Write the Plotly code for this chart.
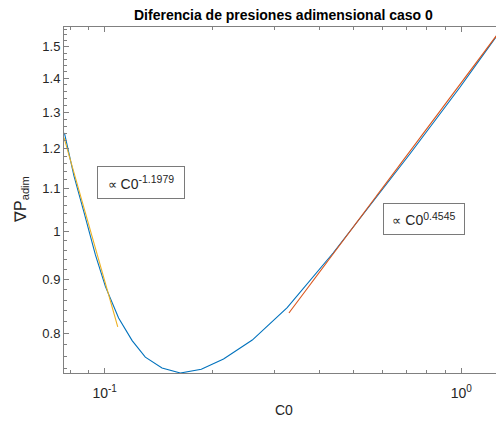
import numpy as np
import plotly.graph_objects as go

# Dimensionless pressure difference vs C0 (case 0)
c0 = [0.0771, 0.0820, 0.0877, 0.0942, 0.1005, 0.1094, 0.1194, 0.1300, 0.1448,
      0.1630, 0.1866, 0.2154, 0.2593, 0.3249, 0.4370, 0.7190, 0.9900, 1.3100]
dp_adim = [1.242, 1.130, 1.040, 0.950, 0.886, 0.827, 0.787, 0.759, 0.741,
           0.733, 0.739, 0.756, 0.788, 0.846, 0.954, 1.187, 1.372, 1.567]

# Power-law fits: y = coef * C0^exp
low_exp, low_coef, low_span = -1.1979, 0.0569, [0.0769, 0.1088]
high_exp, high_coef, high_span = 0.4545, 1.387, [0.3285, 1.31]

x_ticks = [0.1, 1.0]
x_ticktext = ["10<sup><span style='font-size:10px'>-1</span></sup>",
              "10<sup><span style='font-size:10px'>0</span></sup>"]
x_minor = [0.08, 0.09, 0.2, 0.3, 0.4, 0.5, 0.6, 0.7, 0.8, 0.9]
y_ticks = [0.8, 0.9, 1.0, 1.1, 1.2, 1.3, 1.4, 1.5]
y_ticktext = ["0.8", "0.9", "1", "1.1", "1.2", "1.3", "1.4", "1.5"]
y_minor = [round(v, 2) for v in np.arange(0.74, 1.57, 0.02)]

low_x = np.array(low_span)
high_x = np.array(high_span)

W, H = 496, 421
L, R, T, B = 64, 0, 27, 48
pw, ph = W - L - R, H - T - B


def px(xp):
    return (xp - L) / pw


def py(yp):
    return (H - B - yp) / ph


axis_col = "#808080"
text_col = "#262626"
font = "Liberation Sans, Arial, sans-serif"

fig = go.Figure()
fig.add_trace(go.Scatter(x=c0, y=dp_adim, mode="lines",
                         line=dict(color="#0072BD", width=1.1), showlegend=False))
fig.add_trace(go.Scatter(x=high_x, y=high_coef * high_x ** high_exp, mode="lines",
                         line=dict(color="#D95319", width=1.1), showlegend=False))
fig.add_trace(go.Scatter(x=low_x, y=low_coef * low_x ** low_exp, mode="lines",
                         line=dict(color="#EDB120", width=1.1), showlegend=False))

fig.update_layout(
    width=W, height=H,
    margin=dict(l=L, r=R, t=T, b=B, pad=0),
    paper_bgcolor="white", plot_bgcolor="white",
    font=dict(family=font, size=13, color=text_col),
    showlegend=False,
)

fig.update_xaxes(
    type="log", range=[np.log10(0.0769), 0.0972],
    tickmode="array", tickvals=x_ticks, ticktext=x_ticktext,
    ticks="inside", ticklen=5, tickwidth=1, tickcolor=axis_col,
    ticklabelstandoff=7,
    minor=dict(tickmode="array", tickvals=x_minor, ticks="inside", ticklen=3,
               tickwidth=1, tickcolor=axis_col, showgrid=False),
    showline=True, linecolor=axis_col, linewidth=1, mirror="ticks",
    showgrid=False, zeroline=False, tickfont=dict(size=14, color=text_col),
)
fig.update_yaxes(
    type="log", range=[np.log10(0.733), np.log10(1.567)],
    tickmode="array", tickvals=y_ticks, ticktext=y_ticktext,
    ticks="inside", ticklen=5, tickwidth=1, tickcolor=axis_col,
    minor=dict(tickmode="array", tickvals=y_minor, ticks="inside", ticklen=3,
               tickwidth=1, tickcolor=axis_col, showgrid=False),
    showline=True, linecolor=axis_col, linewidth=1, mirror=False,
    showgrid=False, zeroline=False, tickfont=dict(size=13, color=text_col),
)


def fit_label(exp):
    return ("<span style='font-size:13px'>∝</span> C0"
            "<sup><span style='font-size:10.5px'>%.4f</span></sup>" % exp)


annotations = [
    # title
    dict(text="<b>Diferencia de presiones adimensional caso 0</b>",
         x=px(283.5), y=py(15), xref="paper", yref="paper",
         xanchor="center", yanchor="middle", showarrow=False,
         font=dict(size=14, color="black", family=font)),
    # axis labels
    dict(text="C0", x=px(283.5), y=py(410), xref="paper", yref="paper",
         xanchor="center", yanchor="middle", showarrow=False,
         font=dict(size=14, color=text_col, family=font)),
    dict(text="∇P<sub>adim</sub>", x=px(21), y=py(200), xref="paper", yref="paper",
         xanchor="center", yanchor="middle", textangle=-90, showarrow=False,
         font=dict(size=16, color=text_col, family=font)),
    # fit labels
    dict(text=fit_label(low_exp), x=px(141), y=py(182.5),
         xref="paper", yref="paper", xanchor="center", yanchor="middle",
         showarrow=False, width=84, height=29, borderpad=1, borderwidth=1,
         bordercolor="#7a7a7a", bgcolor="white",
         font=dict(size=14, color=text_col, family=font)),
    dict(text=fit_label(high_exp), x=px(424.3), y=py(219.3),
         xref="paper", yref="paper", xanchor="center", yanchor="middle",
         showarrow=False, width=78, height=28, borderpad=1, borderwidth=1,
         bordercolor="#7a7a7a", bgcolor="white",
         font=dict(size=14, color=text_col, family=font)),
]
fig.update_layout(annotations=annotations)

fig.write_html("out.html")
